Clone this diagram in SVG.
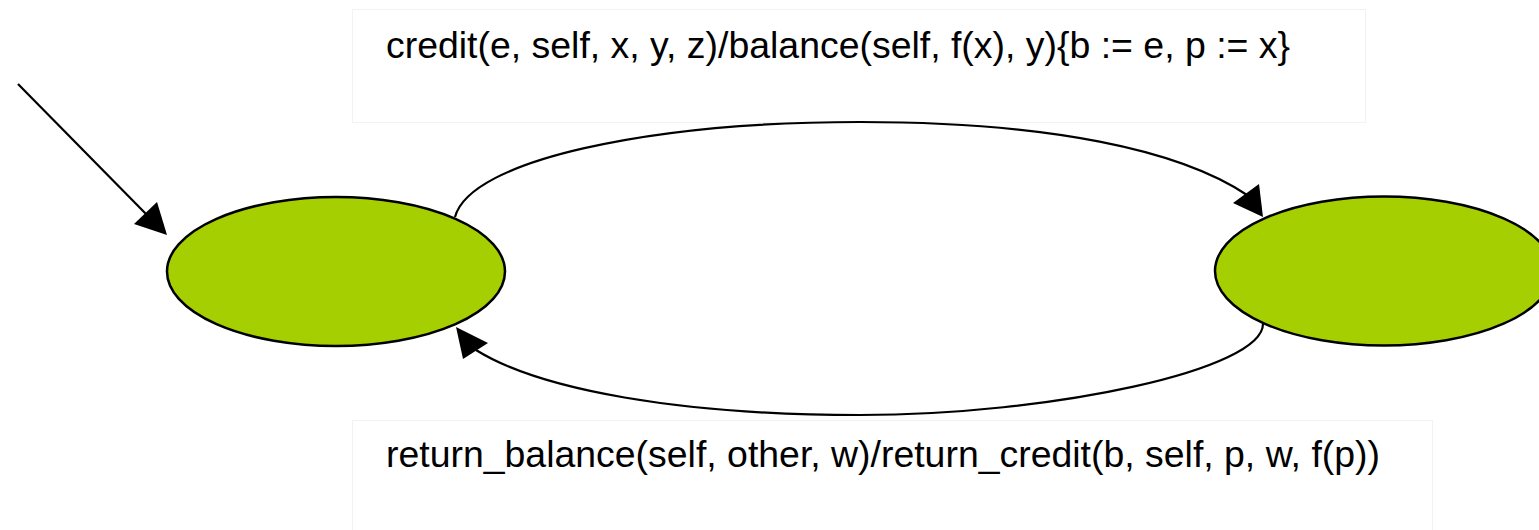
<svg xmlns="http://www.w3.org/2000/svg" width="1539" height="530" viewBox="0 0 1539 530">
<style>
.st{fill:#a5cf00;stroke:#000;stroke-width:2.5}
.edge{fill:none;stroke:#000;stroke-width:2.2}
.head{fill:#000}
.lbox{fill:#fff;stroke:#f2f2f2;stroke-width:1}
.lbl{font-family:"Liberation Sans",Arial,sans-serif;font-size:37px;fill:#000}
</style>
<rect width="1539" height="530" fill="#fff"/>
<g id="label-credit">
<rect class="lbox" x="352.5" y="9.5" width="1013" height="113"/>
<text class="lbl" x="386" y="58" textLength="904" lengthAdjust="spacingAndGlyphs">credit(e, self, x, y, z)/balance(self, f(x), y){b := e, p := x}</text>
</g>
<g id="label-return">
<rect class="lbox" x="352.5" y="420.5" width="1080" height="115"/>
<text class="lbl" x="386" y="467" textLength="994" lengthAdjust="spacingAndGlyphs">return_balance(self, other, w)/return_credit(b, self, p, w, f(p))</text>
</g>
<g id="connectors">
<path class="edge" d="M18 84 L147 215"/>
<polygon class="head" points="167,235 134,224 157,202"/>
<path class="edge" d="M455 217 C470 160 650 122 860 122 C1050 122 1180 150 1247 195"/>
<polygon class="head" points="1263,217 1233,203 1259,184"/>
<path class="edge" d="M1263 323 C1265 370 1050 415 860 415 C680 415 540 390 476 350"/>
<polygon class="head" points="456,327 463,359 488,343"/>
</g>
<g id="state-left">
<ellipse class="st" cx="336" cy="271.5" rx="169" ry="74.5"/>
</g>
<g id="state-right">
<ellipse class="st" cx="1384" cy="271" rx="169" ry="74.5"/>
</g>
</svg>
